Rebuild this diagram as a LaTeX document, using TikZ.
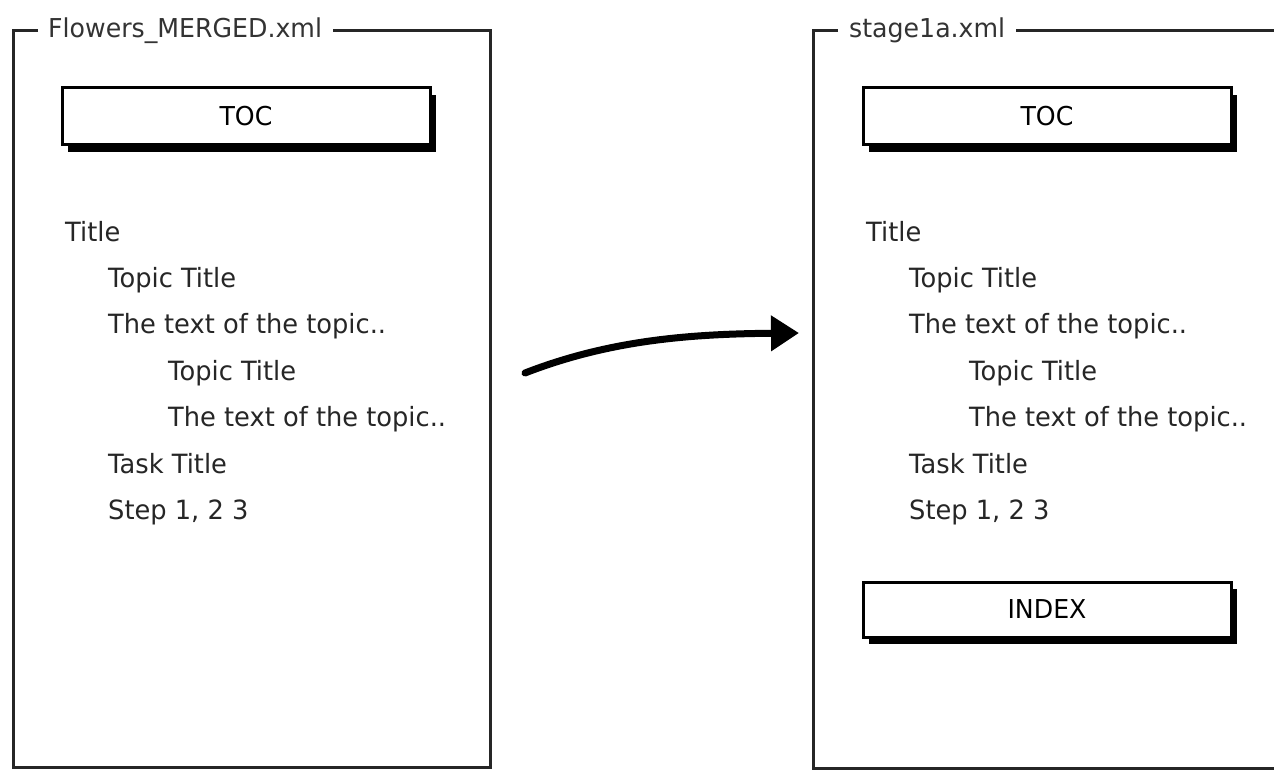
\documentclass[tikz,border=0pt]{standalone}
\usepackage{fontspec}
\setmainfont[FakeStretch=0.97]{DejaVu Sans}
\usetikzlibrary{arrows.meta,shadows}
\tikzset{
  frameline/.style={line width=3pt, draw=black!85},
  txt/.style={anchor=base west, inner sep=0pt, font=\fontsize{26.5}{30}\selectfont, text=black!85},
  lbl/.style={anchor=base west, inner sep=0pt, font=\fontsize{26}{30}\selectfont, text=black!80},
  wbox/.style={draw=black, line width=3pt, fill=white, minimum width=368pt, minimum height=57pt,
    inner sep=0pt, font=\fontsize{26}{30}\selectfont,
    drop shadow={shadow xshift=6pt, shadow yshift=-7pt, fill=black, opacity=1}},
  bigarrow/.style={line width=7pt, line cap=round, -{Triangle[length=28pt,width=34pt]}}
}
\begin{document}
\begin{tikzpicture}[x=1pt,y=-1pt]
\useasboundingbox (0,0) rectangle (1274,773);
\clip (0,0) rectangle (1274,773);
% left frame
\node[lbl] (ltitle) at (48,38) {Flowers\_MERGED.xml};
\draw[frameline] (38,31) -- (13,31) -- (13,767) -- (490,767) -- (490,31) -- (333,31);
\node[wbox] (ltoc) at (246,116.5) {TOC};
\node[txt] (l1) at (65,241) {Title};
\node[txt] (l2) at (108,287) {Topic Title};
\node[txt] (l3) at (108,333) {The text of the topic..};
\node[txt] (l4) at (168,380) {Topic Title};
\node[txt] (l5) at (168,426) {The text of the topic..};
\node[txt] (l6) at (108,473) {Task Title};
\node[txt] (l7) at (108,519) {Step 1, 2 3};
% right frame
\node[lbl] (rtitle) at (849,38) {stage1a.xml};
\draw[frameline] (838,31) -- (813,31) -- (813,768) -- (1290,768);
\draw[frameline] (1016,31) -- (1290,31);
\node[wbox] (rtoc) at (1047,116.5) {TOC};
\node[txt] (r1) at (866,241) {Title};
\node[txt] (r2) at (909,287) {Topic Title};
\node[txt] (r3) at (909,333) {The text of the topic..};
\node[txt] (r4) at (969,380) {Topic Title};
\node[txt] (r5) at (969,426) {The text of the topic..};
\node[txt] (r6) at (909,473) {Task Title};
\node[txt] (r7) at (909,519) {Step 1, 2 3};
\node[wbox, minimum height=55pt] (rindex) at (1047,609.5) {INDEX};
% arrow
\coordinate (astart) at (525,373);
\coordinate (aend) at (799,333);
\draw[bigarrow] (astart) .. controls (610,340) and (690,334) .. (aend);
\end{tikzpicture}
\end{document}
